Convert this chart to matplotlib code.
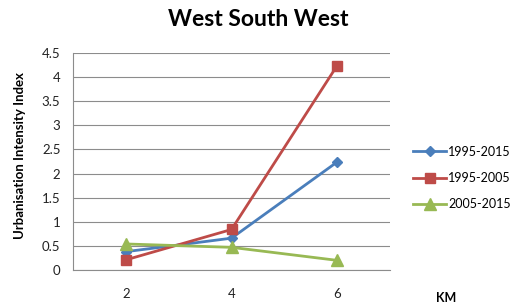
import matplotlib
matplotlib.use("Agg")
import matplotlib.pyplot as plt

categories = ["2", "4", "6"]
s_9515 = [0.38, 0.66, 2.24]
s_9505 = [0.21, 0.84, 4.24]
s_0515 = [0.54, 0.47, 0.20]
labels = ["1995-2015", "1995-2005", "2005-2015"]
yticks = [0, 0.5, 1, 1.5, 2, 2.5, 3, 3.5, 4, 4.5]

plt.rcParams['font.family'] = ['Lato', 'DejaVu Sans']

fig = plt.figure(figsize=(5.16, 3.07), dpi=100)
W, H = 516, 307
ax = fig.add_axes([73 / W, (H - 270) / H, 317 / W, 217 / H])

x = list(range(len(categories)))
lw = 2.0
ax.plot(x, s_9515, color="#4A7EBB", lw=lw, marker="D", ms=5, label=labels[0])
ax.plot(x, s_9505, color="#BE4B48", lw=lw, marker="s", ms=7, label=labels[1])
ax.plot(x, s_0515, color="#98B954", lw=lw, marker="^", ms=8, label=labels[2])

ax.set_xlim(-0.5, len(categories) - 0.5)
ax.set_ylim(0, 4.5)
ax.set_yticks(yticks)
ax.set_yticklabels([f"{v:g}" for v in yticks])
ax.set_xticks(x)
ax.set_xticklabels(categories)
ax.yaxis.grid(True, color="#8c8c8c", lw=0.8)
ax.set_axisbelow(True)
for s in ["top", "right"]:
    ax.spines[s].set_visible(False)
for s in ["left", "bottom"]:
    ax.spines[s].set_color("#8c8c8c")
    ax.spines[s].set_linewidth(0.8)
ax.tick_params(axis="y", length=0, pad=9, labelsize=9.5, colors="#222222")
ax.tick_params(axis="x", length=0, pad=13, labelsize=9.5, colors="#222222")

fig.text(20 / W, 1 - 156 / H, "Urbanisation Intensity Index", rotation=90,
         ha="center", va="center", fontsize=9.5, fontweight="bold")
fig.text(258 / W, 1 - 19 / H, "West South West", ha="center", va="center",
         fontsize=16.5, fontweight="bold")
fig.text(446 / W, 1 - 298 / H, "KM", ha="center", va="center",
         fontsize=9, fontweight="bold")

fig.legend(loc="center left", bbox_to_anchor=(402 / W, 1 - 178 / H),
           frameon=False, fontsize=9, handlelength=2.6, handletextpad=0.2,
           labelspacing=1.15)

fig.savefig("out.png", dpi=100)
